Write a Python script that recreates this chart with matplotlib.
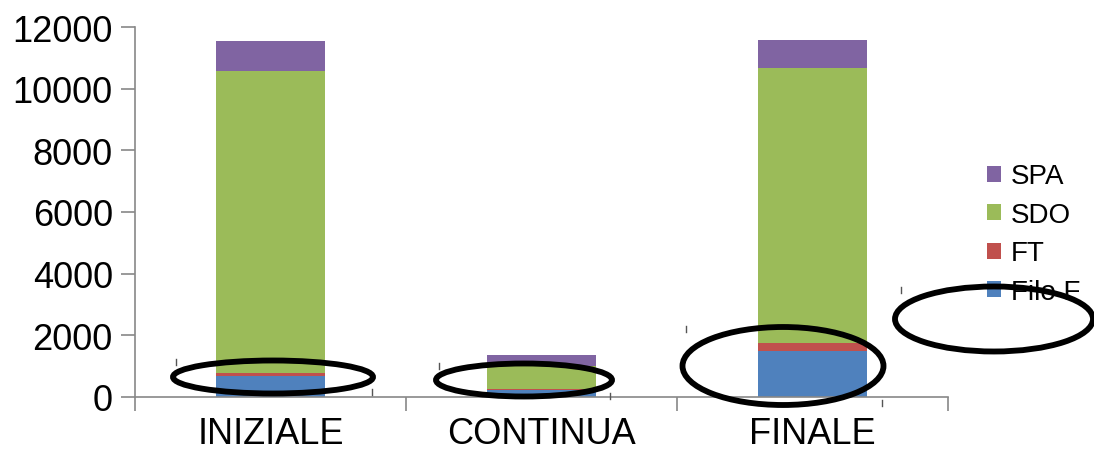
import matplotlib.pyplot as plt
from matplotlib.patches import Ellipse
import numpy as np

plt.rcParams['font.family'] = ['Liberation Sans', 'DejaVu Sans']

categories = ['INIZIALE', 'CONTINUA', 'FINALE']
filo_f = [690, 230, 1500]
ft = [80, 40, 260]
sdo = [9800, 745, 8910]
spa = [980, 350, 910]

colors = {'Filo F': '#4F81BD', 'FT': '#C0504D', 'SDO': '#9BBB59', 'SPA': '#8064A2'}

W, H = 1094, 452
fig = plt.figure(figsize=(W / 100, H / 100), dpi=100)
ax = fig.add_axes([135 / W, 1 - 398 / H, (948 - 135) / W, (398 - 28) / H])

x = np.arange(len(categories))
bottom = np.zeros(len(categories))
for name, vals in [('Filo F', filo_f), ('FT', ft), ('SDO', sdo), ('SPA', spa)]:
    ax.bar(x, vals, width=0.4, bottom=bottom, color=colors[name], label=name)
    bottom += np.array(vals)

ax.set_xlim(-0.5, 2.5)
ax.set_ylim(0, 12000)
ax.set_yticks(range(0, 12001, 2000))
ax.set_xticks([-0.5, 0.5, 1.5, 2.5], minor=True)
ax.set_xticks(x)
ax.set_xticklabels(categories, fontsize=26)
ax.tick_params(axis='x', which='major', length=0, pad=14)
ax.tick_params(axis='x', which='minor', length=10, color='#888888', width=1.2)
ax.tick_params(axis='y', labelsize=26, length=10, color='#888888', width=1.2, pad=6)
for s in ['top', 'right']:
    ax.spines[s].set_visible(False)
for s in ['left', 'bottom']:
    ax.spines[s].set_color('#888888')
    ax.spines[s].set_linewidth(1.2)

handles, labels = ax.get_legend_handles_labels()
fig.legend(handles[::-1], labels[::-1], loc='upper left',
           bbox_to_anchor=(968 / W, 1 - 145 / H), frameon=False, fontsize=20,
           handlelength=0.5, handleheight=0.5, handletextpad=0.35,
           labelspacing=0.45, borderpad=0.2)

# hand-drawn highlight rings
rings = [(273, 378, 200, 33), (524, 381, 176, 33), (783, 367, 201, 78), (994, 320, 198, 65)]
for cx, cy, w, h in rings:
    fig.add_artist(Ellipse((cx / W, 1 - cy / H), w / W, h / H, transform=fig.transFigure,
                           fill=False, edgecolor='black', lw=4.2, clip_on=False, zorder=10))

# small handle marks left by the ring shapes
marks = [(176, 363), (372, 393), (439, 367), (610, 397), (686, 330), (882, 404), (901, 291)]
for mx, my in marks:
    fig.add_artist(plt.Line2D([mx / W, mx / W], [1 - (my - 3) / H, 1 - (my + 3) / H],
                              transform=fig.transFigure, color='#555555', lw=1))

fig.savefig('out.png', dpi=100)
